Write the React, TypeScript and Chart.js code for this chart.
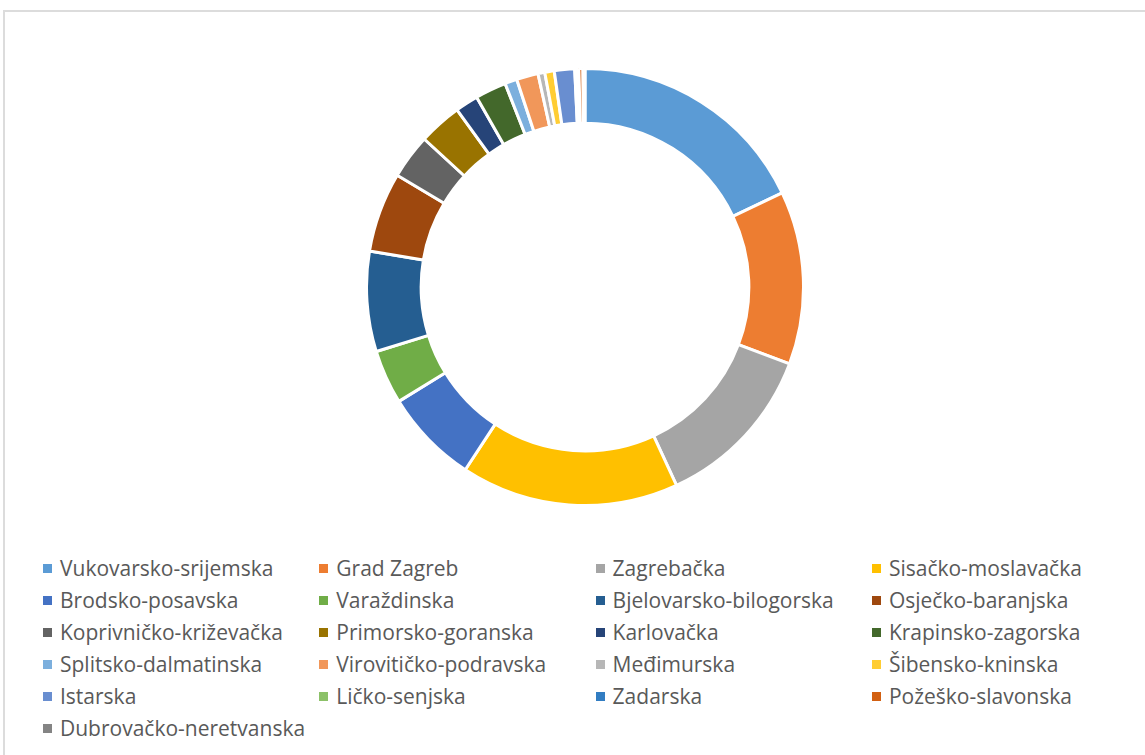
import React, { useEffect, useRef } from "react";
import { Chart, registerables } from "chart.js";

Chart.register(...registerables);

const labels: string[] = [
  "Vukovarsko-srijemska",
  "Grad Zagreb",
  "Zagrebačka",
  "Sisačko-moslavačka",
  "Brodsko-posavska",
  "Varaždinska",
  "Bjelovarsko-bilogorska",
  "Osječko-baranjska",
  "Koprivničko-križevačka",
  "Primorsko-goranska",
  "Karlovačka",
  "Krapinsko-zagorska",
  "Splitsko-dalmatinska",
  "Virovitičko-podravska",
  "Međimurska",
  "Šibensko-kninska",
  "Istarska",
  "Ličko-senjska",
  "Zadarska",
  "Požeško-slavonska",
  "Dubrovačko-neretvanska",
];

const values: number[] = [
  17.9, 12.8, 12.4, 16.1, 7.0, 4.0, 7.4, 5.9, 3.3, 3.2, 1.7, 2.3, 0.9, 1.6, 0.5,
  0.7, 1.5, 0.15, 0.15, 0.3, 0.15,
];

const colors: string[] = [
  "#5B9BD5",
  "#ED7D31",
  "#A5A5A5",
  "#FFC000",
  "#4472C4",
  "#70AD47",
  "#255E91",
  "#9E480E",
  "#636363",
  "#997300",
  "#264478",
  "#43682B",
  "#7CAFDD",
  "#F1975A",
  "#B7B7B7",
  "#FFCD33",
  "#698ED0",
  "#8CC168",
  "#327DC2",
  "#D26012",
  "#848484",
];

const LEGEND_COLS = 4;

export default function App() {
  const canvasRef = useRef<HTMLCanvasElement | null>(null);

  useEffect(() => {
    if (!canvasRef.current) return;
    const chart = new Chart(canvasRef.current, {
      type: "doughnut",
      data: {
        labels,
        datasets: [
          {
            data: values,
            backgroundColor: colors,
            borderColor: "#ffffff",
            borderWidth: 3,
          },
        ],
      },
      options: {
        animation: false,
        responsive: false,
        maintainAspectRatio: false,
        cutout: "75%",
        layout: { padding: 0 },
        plugins: {
          legend: { display: false },
          tooltip: { enabled: false },
        },
      },
    });
    return () => chart.destroy();
  }, []);

  return (
    <div
      style={{
        position: "fixed",
        left: 0,
        top: 0,
        width: 1145,
        height: 755,
        background: "#ffffff",
        overflow: "hidden",
      }}
    >
      <div
        style={{
          position: "absolute",
          left: 3,
          top: 10,
          width: 1160,
          height: 770,
          border: "2px solid #dcdcdc",
          boxSizing: "border-box",
        }}
      />
      <canvas
        ref={canvasRef}
        width={440}
        height={440}
        style={{ position: "absolute", left: 365, top: 67, width: 440, height: 440 }}
      />
      {labels.map((label, i) => {
        const col = i % LEGEND_COLS;
        const row = Math.floor(i / LEGEND_COLS);
        return (
          <div
            key={label}
            style={{
              position: "absolute",
              left: 43 + col * 276.3,
              top: 552 + row * 32,
              height: 32,
              display: "flex",
              alignItems: "center",
              whiteSpace: "nowrap",
              fontFamily: "'Open Sans', 'Noto Sans', sans-serif",
              fontSize: 21,
              color: "#595959",
            }}
          >
            <span
              style={{
                display: "inline-block",
                width: 9,
                height: 9,
                background: colors[i],
                marginRight: 8,
              }}
            />
            <span>{label}</span>
          </div>
        );
      })}
    </div>
  );
}
